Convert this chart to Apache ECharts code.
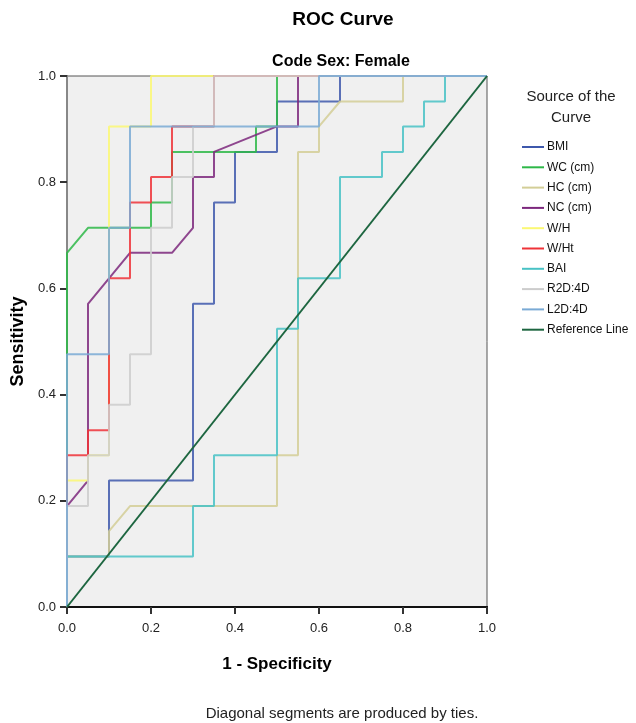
<!DOCTYPE html>
<html>
<head>
<meta charset="utf-8">
<script src="https://cdn.jsdelivr.net/npm/echarts@6/dist/echarts.min.js"></script>
<style>
html, body { margin: 0; padding: 0; background: #fff; }
#main { width: 636px; height: 723px; }
</style>
</head>
<body>
<div id="main"></div>
<script>
// ROC points (1 - specificity, sensitivity) per test variable
var names = ['BMI', 'WC (cm)', 'HC (cm)', 'NC (cm)', 'W/H', 'W/Ht', 'BAI', 'R2D:4D', 'L2D:4D', 'Reference Line'];
var colors = ['#3e58ac', '#2eb848', '#d3ce97', '#7c287d', '#fbf873', '#ef3338', '#48c2c5', '#cccccc', '#7aaad5', '#1d6640'];

var bmiX = [0, 0, 0.1, 0.1, 0.3, 0.3, 0.35, 0.35, 0.4, 0.4, 0.5, 0.5, 0.65, 0.65, 1];
var bmiY = [0, 0.095, 0.095, 0.238, 0.238, 0.571, 0.571, 0.762, 0.762, 0.857, 0.857, 0.952, 0.952, 1, 1];

var wcX = [0, 0, 0.05, 0.2, 0.2, 0.25, 0.25, 0.45, 0.45, 0.5, 0.5, 1];
var wcY = [0, 0.667, 0.714, 0.714, 0.762, 0.762, 0.857, 0.857, 0.905, 0.905, 1, 1];

var hcX = [0, 0, 0.1, 0.1, 0.15, 0.5, 0.5, 0.55, 0.55, 0.6, 0.6, 0.65, 0.8, 0.8, 1];
var hcY = [0, 0.095, 0.095, 0.143, 0.190, 0.190, 0.286, 0.286, 0.857, 0.857, 0.905, 0.952, 0.952, 1, 1];

var ncX = [0, 0, 0.05, 0.05, 0.15, 0.25, 0.3, 0.3, 0.35, 0.35, 0.5, 0.55, 0.55, 1];
var ncY = [0, 0.190, 0.238, 0.571, 0.667, 0.667, 0.714, 0.810, 0.810, 0.857, 0.905, 0.905, 1, 1];

var whX = [0, 0, 0.05, 0.05, 0.1, 0.1, 0.2, 0.2, 1];
var whY = [0, 0.238, 0.238, 0.286, 0.286, 0.905, 0.905, 1, 1];

var whtX = [0, 0, 0.05, 0.05, 0.1, 0.1, 0.15, 0.15, 0.2, 0.2, 0.25, 0.25, 0.35, 0.35, 1];
var whtY = [0, 0.286, 0.286, 0.333, 0.333, 0.619, 0.619, 0.762, 0.762, 0.810, 0.810, 0.905, 0.905, 1, 1];

var baiX = [0, 0, 0.3, 0.3, 0.35, 0.35, 0.5, 0.5, 0.55, 0.55, 0.65, 0.65, 0.75, 0.75, 0.8, 0.8, 0.85, 0.85, 0.9, 0.9, 1];
var baiY = [0, 0.095, 0.095, 0.190, 0.190, 0.286, 0.286, 0.524, 0.524, 0.619, 0.619, 0.810, 0.810, 0.857, 0.857, 0.905, 0.905, 0.952, 0.952, 1, 1];

var r2dX = [0, 0, 0.05, 0.05, 0.1, 0.1, 0.15, 0.15, 0.2, 0.2, 0.25, 0.25, 0.3, 0.3, 0.35, 0.35, 1];
var r2dY = [0, 0.190, 0.190, 0.286, 0.286, 0.381, 0.381, 0.476, 0.476, 0.714, 0.714, 0.810, 0.810, 0.905, 0.905, 1, 1];

var l2dX = [0, 0, 0.1, 0.1, 0.15, 0.15, 0.6, 0.6, 1];
var l2dY = [0, 0.476, 0.476, 0.714, 0.714, 0.905, 0.905, 1, 1];

var refX = [0, 1];
var refY = [0, 1];

var allX = [bmiX, wcX, hcX, ncX, whX, whtX, baiX, r2dX, l2dX, refX];
var allY = [bmiY, wcY, hcY, ncY, whY, whtY, baiY, r2dY, l2dY, refY];

function pairs(xs, ys) {
    var out = [];
    for (var i = 0; i < xs.length; i++) {
        out.push([xs[i], ys[i]]);
    }
    return out;
}

var font = '"Liberation Sans", Arial, sans-serif';

var series = [];
var legendData = [];
for (var s = 0; s < names.length; s++) {
    series.push({
        name: names[s],
        type: 'line',
        data: pairs(allX[s], allY[s]),
        symbol: 'none',
        silent: true,
        animation: false,
        lineStyle: {
            color: colors[s],
            width: 2,
            opacity: s == 9 ? 1 : 0.85
        },
        itemStyle: { color: colors[s] }
    });
    legendData.push({ name: names[s], icon: 'rect', itemStyle: { color: colors[s] } });
}

var chart = echarts.init(document.getElementById('main'));
var option = {
    backgroundColor: '#ffffff',
    animation: false,
    title: [
        {
            text: 'ROC Curve',
            left: 338, top: 5, textAlign: 'center',
            textStyle: { fontFamily: font, fontSize: 19, fontWeight: 'bold', color: '#000' }
        },
        {
            text: 'Code Sex: Female',
            left: 336, top: 49, textAlign: 'center',
            textStyle: { fontFamily: font, fontSize: 16, fontWeight: 'bold', color: '#000' }
        },
        {
            text: 'Source of the\nCurve',
            left: 566, top: 81, textAlign: 'center',
            textStyle: { fontFamily: font, fontSize: 15, fontWeight: 'normal', color: '#222', lineHeight: 21 }
        },
        {
            text: 'Diagonal segments are produced by ties.',
            left: 337, top: 701, textAlign: 'center',
            textStyle: { fontFamily: font, fontSize: 15, fontWeight: 'normal', color: '#222' }
        }
    ],
    legend: {
        orient: 'vertical',
        left: 522,
        top: 140,
        padding: 0,
        itemWidth: 22,
        itemHeight: 2,
        itemGap: 6.3,
        selectedMode: false,
        data: legendData,
        textStyle: { fontFamily: font, fontSize: 12, lineHeight: 14, color: '#111', padding: [0, 0, 0, -2] }
    },
    grid: {
        left: 67, right: 149, top: 76, bottom: 116,
        show: true,
        backgroundColor: '#f0f0f0',
        borderColor: '#555',
        borderWidth: 1
    },
    xAxis: [
        {
            type: 'value', min: 0, max: 1, interval: 0.2,
            name: '1 - Specificity', nameLocation: 'middle', nameGap: 49,
            nameTextStyle: { fontFamily: font, fontSize: 17, fontWeight: 'bold', color: '#000' },
            axisLine: { lineStyle: { color: '#333', width: 2 } },
            axisTick: { show: true, length: 7, lineStyle: { color: '#333', width: 2 } },
            axisLabel: {
                fontFamily: font, fontSize: 13, color: '#222', margin: 15,
                formatter: function (v) { return v.toFixed(1); }
            },
            splitLine: { show: false }
        },
        {
            type: 'value', min: 0, max: 1, position: 'top',
            axisLine: { lineStyle: { color: '#111', width: 2 } },
            axisTick: { show: false }, axisLabel: { show: false }, splitLine: { show: false }
        }
    ],
    yAxis: [
        {
            type: 'value', min: 0, max: 1, interval: 0.2,
            name: 'Sensitivity', nameLocation: 'middle', nameGap: 36,
            nameTextStyle: { fontFamily: font, fontSize: 18, fontWeight: 'bold', color: '#000' },
            axisLine: { lineStyle: { color: '#333', width: 2 } },
            axisTick: { show: true, length: 7, lineStyle: { color: '#333', width: 2 } },
            axisLabel: {
                fontFamily: font, fontSize: 13, color: '#222', margin: 11,
                formatter: function (v) { return v.toFixed(1); }
            },
            splitLine: { show: false }
        },
        {
            type: 'value', min: 0, max: 1, position: 'right',
            axisLine: { lineStyle: { color: '#888', width: 2 } },
            axisTick: { show: false }, axisLabel: { show: false }, splitLine: { show: false }
        }
    ],
    series: series
};
chart.setOption(option);
</script>
</body>
</html>
